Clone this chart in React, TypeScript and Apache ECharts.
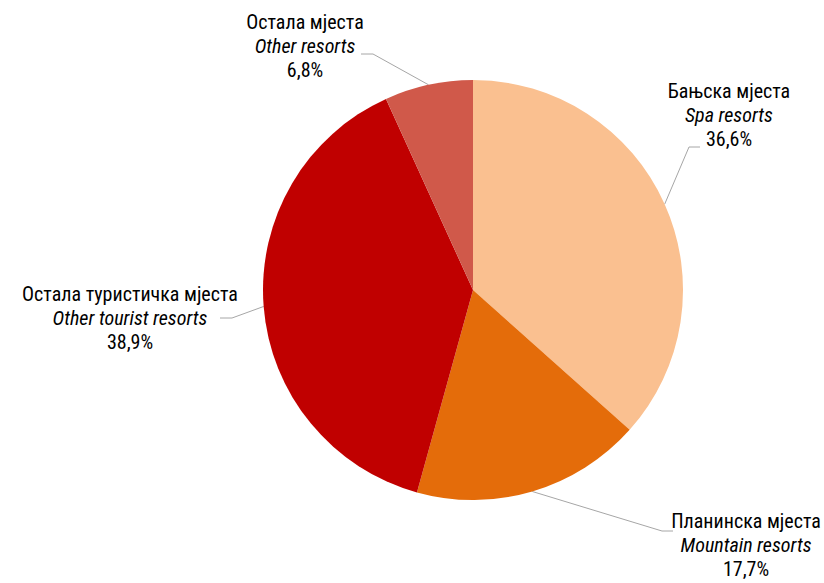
import React, { useEffect, useRef } from "react";
import * as echarts from "echarts";

const namesLocal = ["Бањска мјеста", "Планинска мјеста", "Остала туристичка мјеста", "Остала мјеста"];
const namesEn = ["Spa resorts", "Mountain resorts", "Other tourist resorts", "Other resorts"];
const shares = [36.6, 17.7, 38.9, 6.8];
const colors = ["#FAC090", "#E46C0A", "#C00000", "#D0594A"];

// label placement: [centerX, middleLineY, elbowX, elbowY, endX, endY]
const labelPlacement = [
  [729, 115, 689, 147, 700, 147],
  [746, 545, 662, 531, 673, 531],
  [130, 318, 232, 318, 220, 318],
  [305, 46, 373, 54, 361, 54],
];

const FONT = '"Liberation Sans Narrow", "Arial Narrow", "Roboto Condensed", "DejaVu Sans Condensed", sans-serif';

export default function App() {
  const ref = useRef<HTMLDivElement>(null);
  useEffect(() => {
    const chart = echarts.init(ref.current!, null, { renderer: "svg" });
    chart.setOption({
      animation: false,
      backgroundColor: "#ffffff",
      series: [
        {
          type: "pie",
          center: [473, 290],
          radius: 210,
          startAngle: 90,
          clockwise: true,
          data: shares.map((v, i) => ({
            value: v,
            name: namesLocal[i],
            itemStyle: { color: colors[i] },
          })),
          label: {
            show: true,
            position: "outside",
            overflow: "none",
            formatter: (p: any) =>
              `{a|${namesLocal[p.dataIndex]}}\n{b|${namesEn[p.dataIndex]}}\n{a|${shares[p.dataIndex]
                .toFixed(1)
                .replace(".", ",")}%}`,
            rich: {
              a: { fontFamily: FONT, fontSize: 20, color: "#000", lineHeight: 24, align: "center" },
              b: { fontFamily: FONT, fontSize: 20, fontStyle: "italic", color: "#000", lineHeight: 24, align: "center" },
            },
          },
          labelLine: { show: true, lineStyle: { color: "#A6A6A6", width: 1 } },
          labelLayout: (params: any) => {
            const p = labelPlacement[params.dataIndex];
            const start = params.labelLinePoints ? params.labelLinePoints[0] : [p[2], p[3]];
            return {
              x: p[0],
              y: p[1],
              align: "center",
              verticalAlign: "middle",
              labelLinePoints: [start, [p[2], p[3]], [p[4], p[5]]],
            };
          },
          emphasis: { disabled: true },
        },
      ],
    });
    return () => chart.dispose();
  }, []);
  return <div ref={ref} style={{ position: "absolute", left: 0, top: 0, width: 824, height: 583 }} />;
}
